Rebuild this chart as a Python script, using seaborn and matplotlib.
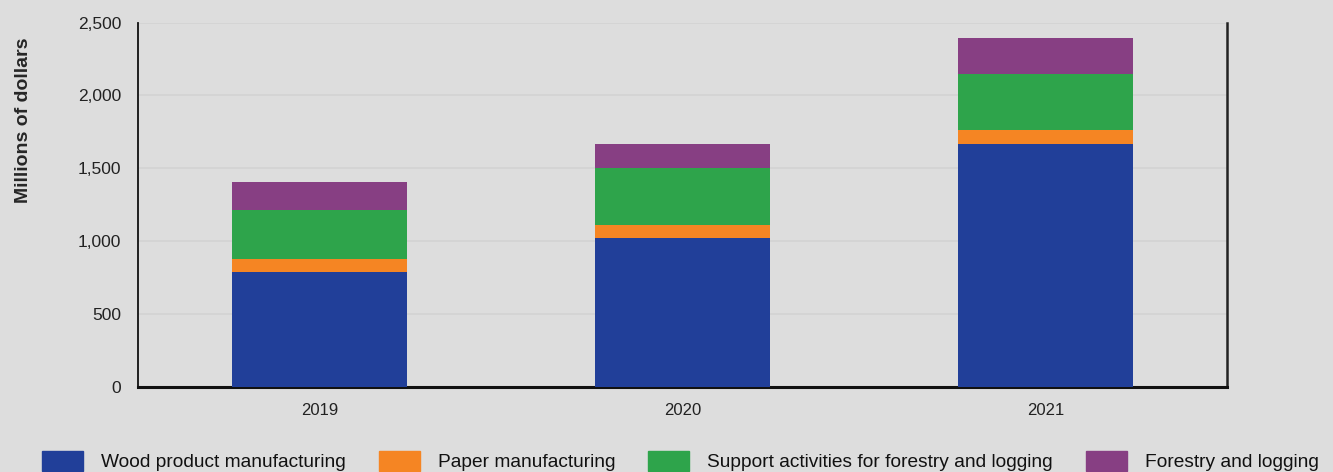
import matplotlib
matplotlib.use("Agg")
import matplotlib.pyplot as plt
import matplotlib.patches as mpatches
import numpy as np
import pandas as pd
import seaborn as sns

# values (millions of dollars)
years = ["2019", "2020", "2021"]
wood = [786, 1020, 1665]
paper = [90, 89, 97]
support = [336, 392, 384]
forestry = [192, 164, 247]

series_names = ["Wood product manufacturing", "Paper manufacturing",
                "Support activities for forestry and logging", "Forestry and logging"]
colors = ["#213f99", "#f58523", "#2ea44b", "#873f83"]

bg = "#dddddd"
sns.set_theme(style="white", rc={"axes.facecolor": bg, "figure.facecolor": bg})
plt.rcParams["font.family"] = ["Liberation Sans", "DejaVu Sans"]

df = pd.DataFrame({"year": years, "wood": wood, "paper": paper,
                   "support": support, "forestry": forestry})
# cumulative heights, drawn tallest first so the stack shows through
cum = df[["wood", "paper", "support", "forestry"]].cumsum(axis=1)

fig = plt.figure(figsize=(13.33, 4.72), dpi=100)
ax = fig.add_axes([0.1035, 0.181, 0.817, 0.771])

for col, c in zip(["forestry", "support", "paper", "wood"], colors[::-1]):
    sns.barplot(x=df["year"], y=cum[col], color=c, width=0.482,
                saturation=1, linewidth=0, edgecolor="none", ax=ax, zorder=3)

ax.set_ylim(0, 2500)
ax.set_xlim(-0.5, 2.5)
ax.set_yticks([0, 500, 1000, 1500, 2000, 2500])
ax.set_yticklabels(["0", "500", "1,000", "1,500", "2,000", "2,500"], fontsize=12.5,
                   color="#222222")
ax.set_xticks(range(len(years)))
ax.set_xticklabels(years, fontsize=12, color="#222222")
ax.tick_params(axis="x", length=0, pad=12)
ax.tick_params(axis="y", length=0, pad=12)
ax.set_xlabel("")
ax.set_ylabel("Millions of dollars", fontsize=14, fontweight="bold")
ax.yaxis.set_label_coords(-0.097, 0.733)

ax.grid(axis="y", color="#d3d3d3", linewidth=1.2, zorder=0)
ax.set_axisbelow(True)
ax.spines["top"].set_visible(False)
ax.spines["left"].set_color("#111111")
ax.spines["left"].set_linewidth(1.3)
ax.spines["right"].set_color("#222222")
ax.spines["right"].set_linewidth(1.8)
ax.spines["bottom"].set_color("#111111")
ax.spines["bottom"].set_linewidth(2.2)

handles = [mpatches.Patch(color=c, label=n) for c, n in zip(colors, series_names)]
fig.legend(handles=handles, loc="center", ncol=4, frameon=False,
           bbox_to_anchor=(0.5105, 1 - 461 / 472), fontsize=13.8,
           handlelength=2.14, handleheight=1.3, handletextpad=0.94,
           columnspacing=1.72, borderpad=0, labelcolor="#111111")

fig.savefig("out.png", dpi=100, facecolor=bg)
